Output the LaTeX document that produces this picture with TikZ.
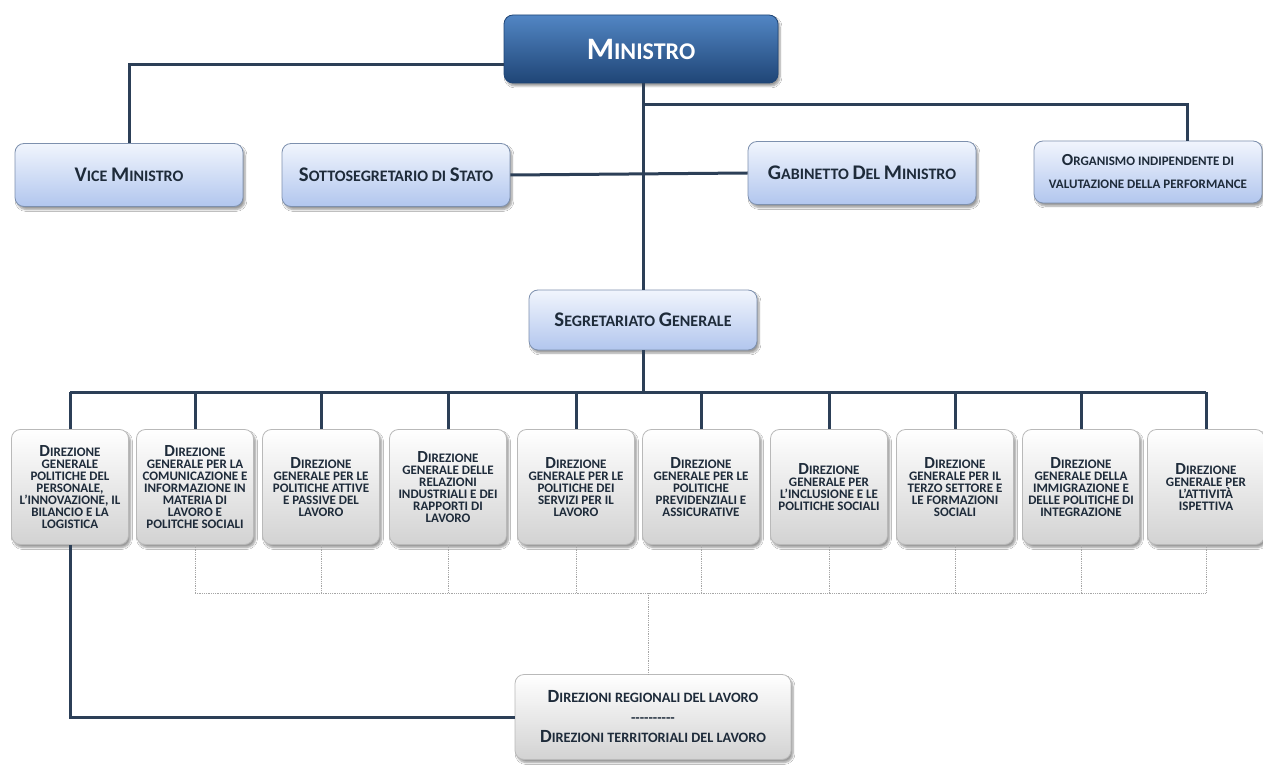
\documentclass[tikz,border=0pt]{standalone}
\usepackage{fontspec}
\setmainfont{Carlito}
\usepackage{graphicx}
\usetikzlibrary{calc,positioning,shadows.blur}
\definecolor{linea}{HTML}{2C3F57}
\definecolor{blutop}{HTML}{5286C4}
\definecolor{blubot}{HTML}{1F4576}
\definecolor{celtop}{HTML}{F1F5FD}
\definecolor{celbot}{HTML}{B2C6EE}
\definecolor{celbordo}{HTML}{7D90AE}
\definecolor{testo}{HTML}{1E2B3A}
\newcommand{\Bg}[1]{\scalebox{1.3}{#1}}
\newcommand{\trattini}{-\kern0pt-\kern0pt-\kern0pt-\kern0pt-\kern0pt-\kern0pt-\kern0pt-\kern0pt-\kern0pt-}
\tikzset{
  box/.style={
    rounded corners=9pt,
    line width=0.8pt,
    align=center,
    inner sep=2pt,
    blur shadow={shadow xshift=2pt,shadow yshift=-3pt,shadow blur steps=6}
  },
  minbox/.style={
    box,
    draw=blubot,
    top color=blutop,
    bottom color=blubot,
    minimum width=274pt,
    minimum height=68pt,
    text=white,
    font=\fontsize{24}{26}\selectfont\bfseries
  },
  ufficio/.style={
    box,
    draw=celbordo,
    top color=celtop,
    bottom color=celbot,
    minimum width=228pt,
    minimum height=63pt,
    text=testo,
    font=\fontsize{16}{17}\selectfont\bfseries
  },
  dirbox/.style={
    box,
    draw=gray!55,
    top color=white,
    middle color=white,
    bottom color=gray!35,
    minimum width=117pt,
    minimum height=115pt,
    text=testo,
    font=\fontsize{13}{12}\selectfont\bfseries
  },
  tratto/.style={draw=linea,line width=3pt},
  punti/.style={draw=gray!70,line width=0.8pt,densely dotted}
}
\begin{document}
\begin{tikzpicture}[x=1pt,y=-1pt]
  \useasboundingbox[fill=white] (0,0) rectangle (1263,767);

  \node[minbox] (min) at (641,49) {\Bg{M}INISTRO};
  \node[ufficio] (vm) at (129,175) {\Bg{V}ICE \Bg{M}INISTRO};
  \node[ufficio] (ss) at (396,175) {\Bg{S}OTTOSEGRETARIO DI \Bg{S}TATO};
  \node[ufficio] (gab) at (862,173) {\Bg{G}ABINETTO \Bg{D}EL \Bg{M}INISTRO};
  \node[ufficio,minimum height=62pt,font=\fontsize{13}{23}\selectfont\bfseries] (oiv) at (1148,172)
    {\Bg{O}RGANISMO INDIPENDENTE DI\\VALUTAZIONE DELLA PERFORMANCE};
  \node[ufficio,minimum height=60pt] (seg) at (643,320) {\Bg{S}EGRETARIATO \Bg{G}ENERALE};

  \foreach \x/\testo [count=\i] in {
    70/{\Bg{D}IREZIONE\\GENERALE\\POLITICHE DEL\\PERSONALE,\\L'INNOVAZIONE, IL\\BILANCIO E LA\\LOGISTICA},
    195/{\Bg{D}IREZIONE\\GENERALE PER LA\\COMUNICAZIONE E\\INFORMAZIONE IN\\MATERIA DI\\LAVORO E\\POLITCHE SOCIALI},
    321/{\Bg{D}IREZIONE\\GENERALE PER LE\\POLITICHE ATTIVE\\E PASSIVE DEL\\LAVORO},
    448/{\Bg{D}IREZIONE\\GENERALE DELLE\\RELAZIONI\\INDUSTRIALI E DEI\\RAPPORTI DI\\LAVORO},
    576/{\Bg{D}IREZIONE\\GENERALE PER LE\\POLITICHE DEI\\SERVIZI PER IL\\LAVORO},
    701/{\Bg{D}IREZIONE\\GENERALE PER LE\\POLITICHE\\PREVIDENZIALI E\\ASSICURATIVE},
    829/{\Bg{D}IREZIONE\\GENERALE PER\\L'INCLUSIONE E LE\\POLITICHE SOCIALI},
    955/{\Bg{D}IREZIONE\\GENERALE PER IL\\TERZO SETTORE E\\LE FORMAZIONI\\SOCIALI},
    1081/{\Bg{D}IREZIONE\\GENERALE DELLA\\IMMIGRAZIONE E\\DELLE POLITICHE DI\\INTEGRAZIONE},
    1206/{\Bg{D}IREZIONE\\GENERALE PER\\L'ATTIVITÀ\\ISPETTIVA}}
    \node[dirbox] (d\i) at (\x,487) {\testo};

  \node[dirbox,minimum width=276pt,minimum height=85pt,font=\fontsize{14.3}{20}\selectfont\bfseries] (dr) at (653,717)
    {\Bg{D}IREZIONI REGIONALI DEL LAVORO\\\trattini\\\Bg{D}IREZIONI TERRITORIALI DEL LAVORO};

  \coordinate (dx) at (643,105);
  \coordinate (bus) at (643,392);
  \coordinate (dot) at (648,593);

  \draw[tratto] ([yshift=-16pt]min.west) -| (vm.north);
  \draw[tratto] (min.south -| seg.north) -- (seg.north);
  \draw[tratto] (dx) -| ([xshift=39pt]oiv.north);
  \draw[tratto] (ss.east) -- (gab.west);
  \draw[tratto] (seg.south) -- (bus);
  \draw[tratto] (d1.north |- bus) -- (d10.north |- bus);
  \foreach \i in {1,...,10}
    \draw[tratto] (d\i.north |- bus) -- (d\i.north);
  \draw[tratto] (d1.south) |- (dr.west);

  \foreach \i in {2,...,10}
    \draw[punti] (d\i.south) -- (d\i.south |- dot);
  \draw[punti] (d2.south |- dot) -- (d10.south |- dot);
  \draw[punti] (dot) -- (dot |- dr.north);
\end{tikzpicture}
\end{document}
